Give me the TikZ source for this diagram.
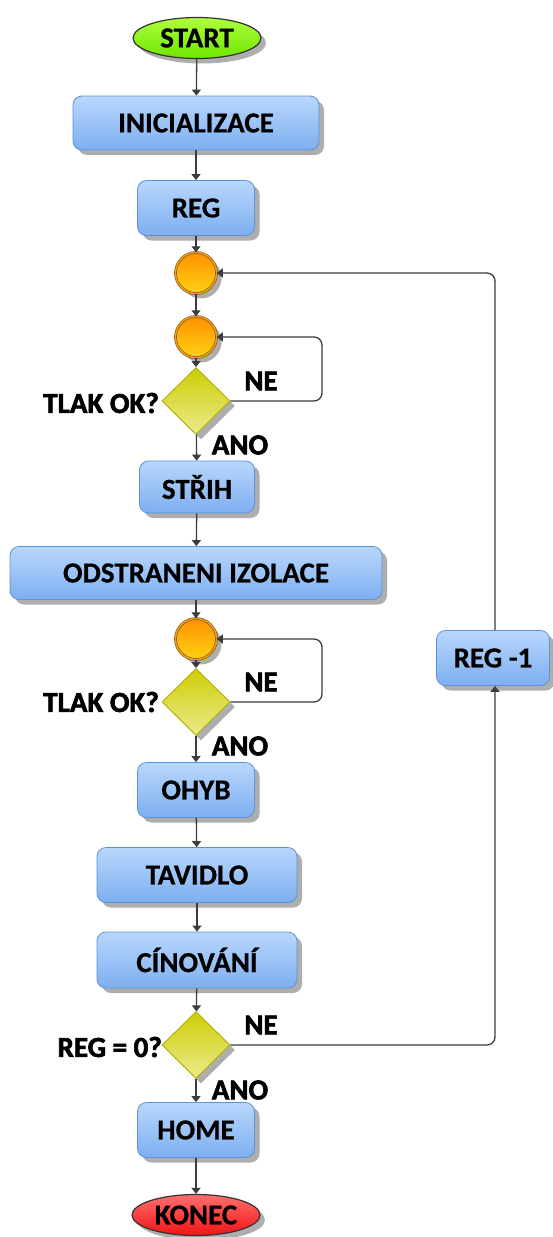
\documentclass[tikz,border=0pt]{standalone}
\usepackage{fontspec}
\setmainfont{Carlito}[BoldFeatures={FakeBold=0.6}]
\newfontfamily\lblfont{Carlito}[BoldFeatures={FakeBold=2.2}]
\usetikzlibrary{shapes.geometric,shadows,arrows.meta}

\definecolor{linecol}{RGB}{60,60,60}
\definecolor{boxtop}{RGB}{185,215,252}
\definecolor{boxbot}{RGB}{125,175,240}
\definecolor{boxline}{RGB}{95,145,215}
\definecolor{cirtop}{RGB}{255,145,0}
\definecolor{cirbot}{RGB}{255,210,20}
\definecolor{diatop}{RGB}{205,205,5}
\definecolor{diabot}{RGB}{235,235,140}
\definecolor{dialine}{RGB}{175,175,0}
\definecolor{gotop}{RGB}{175,255,60}
\definecolor{gobot}{RGB}{110,230,0}
\definecolor{endtop}{RGB}{255,110,110}
\definecolor{endbot}{RGB}{240,20,20}

\tikzset{
  txt/.style={font=\fontsize{29}{31}\selectfont\bfseries},
  shade/.style={drop shadow={shadow xshift=5pt,shadow yshift=-5pt,fill=black!45,opacity=0.7}},
  procbox/.style={txt,rectangle,rounded corners=9pt,draw=boxline,line width=0.8pt,
    top color=boxtop,bottom color=boxbot,shade,inner sep=0pt},
  termnode/.style={txt,ellipse,draw=black!80,line width=1.2pt,minimum width=128pt,minimum height=41pt,
    inner sep=0pt,shade},
  joint/.style={circle,minimum size=41pt,inner sep=0pt,top color=cirtop,bottom color=cirbot,
    draw=black!70,double=orange!80!yellow,double distance=1.6pt,line width=0.5pt,shade},
  decide/.style={diamond,minimum width=68pt,minimum height=67pt,inner sep=0pt,
    top color=diatop,bottom color=diabot,draw=dialine,line width=0.9pt,shade},
  lbl/.style={font=\lblfont\fontsize{29}{31}\selectfont\bfseries,inner sep=0pt},
  arr/.style={draw=linecol,line width=1.3pt,-{Triangle[length=6pt,width=9pt]}},
}

\begin{document}
\begin{tikzpicture}[x=1pt,y=-1pt]
\useasboundingbox (0,0) rectangle (552,1237);

% main column
\node[termnode,top color=gotop,bottom color=gobot] (start) at (197,38) {START};
\node[procbox,minimum width=246pt,minimum height=54pt] (init) at (196,123) {INICIALIZACE};
\node[procbox,minimum width=117pt,minimum height=55pt] (reg) at (196,208) {REG};
\node[joint] (c1) at (196,273) {};
\node[joint] (c2) at (196,337) {};
\node[decide] (d1) at (196,401) {};
\node[procbox,minimum width=115pt,minimum height=52pt] (strih) at (197,487) {STŘIH};
\node[procbox,minimum width=372pt,minimum height=53pt] (odstr) at (196,573) {ODSTRANENI IZOLACE};
\node[joint] (c3) at (196,639) {};
\node[decide] (d2) at (196,702) {};
\node[procbox,minimum width=117pt,minimum height=55pt] (ohyb) at (196,790) {OHYB};
\node[procbox,minimum width=200pt,minimum height=55pt] (tav) at (197,875) {TAVIDLO};
\node[procbox,minimum width=200pt,minimum height=56pt] (cin) at (197,960) {CÍNOVÁNÍ};
\node[decide] (d3) at (196,1045) {};
\node[procbox,minimum width=117pt,minimum height=55pt] (home) at (196,1130) {HOME};
\node[termnode,top color=endtop,bottom color=endbot] (konec) at (196,1215) {KONEC};

% side counter box
\node[procbox,minimum width=113pt,minimum height=55pt] (dec) at (493,658) {REG -1};

% decision labels
\node[lbl,anchor=east] (q1) at (159,403) {TLAK OK?};
\node[lbl,anchor=east] (q2) at (159,702) {TLAK OK?};
\node[lbl,anchor=east] (q3) at (162,1047) {REG = 0?};
\node[lbl] (ne1) at (261,381) {NE};
\node[lbl] (ne2) at (261,682) {NE};
\node[lbl] (ne3) at (261,1025) {NE};
\node[lbl] (ano1) at (240,445) {ANO};
\node[lbl] (ano2) at (240,746) {ANO};
\node[lbl] (ano3) at (240,1090) {ANO};

\coordinate (loopx) at (322,0);
\coordinate (backx) at (495,0);

% main flow
\draw[arr] (start) -- (init);
\draw[arr] (init) -- (reg);
\draw[arr] (reg) -- (c1);
\draw[arr] (c1) -- (c2);
\draw[arr] (c2) -- (d1);
\draw[arr] (d1) -- (strih);
\draw[arr] (strih) -- (odstr);
\draw[arr] (odstr) -- (c3);
\draw[arr] (c3) -- (d2);
\draw[arr] (d2) -- (ohyb);
\draw[arr] (ohyb) -- (tav);
\draw[arr] (tav) -- (cin);
\draw[arr] (cin) -- (d3);
\draw[arr] (d3) -- (home);
\draw[arr] (home) -- (konec);

% waiting loops
\draw[arr,rounded corners=8pt] (d1.east) -- (d1.east -| loopx) |- (c2.east);
\draw[arr,rounded corners=8pt] (d2.east) -- (d2.east -| loopx) |- (c3.east);

% repeat loop through the counter
\draw[arr,rounded corners=8pt] (d3.east) -- (d3.east -| backx) -- (dec.south -| backx);
\draw[arr,rounded corners=8pt] (dec.north -| backx) -- (c1.east -| backx) -- (c1.east);
\end{tikzpicture}
\end{document}
